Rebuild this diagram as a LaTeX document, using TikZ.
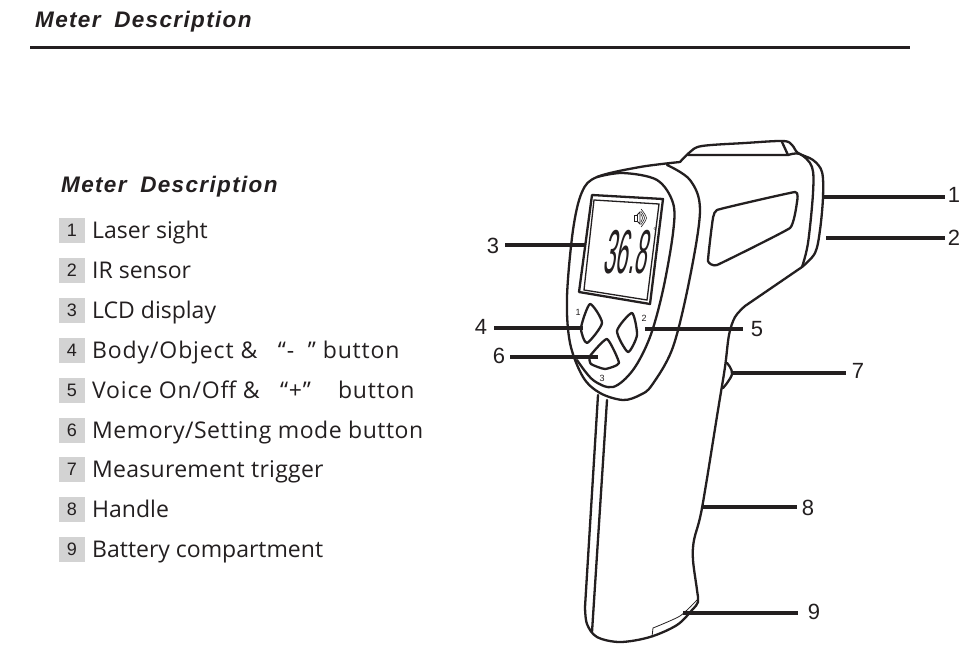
\documentclass[tikz,border=0pt]{standalone}
\usepackage{fontspec}
\setmainfont{Open Sans}
\newfontfamily\arialf{Liberation Sans}
\newfontfamily\headf[LetterSpace=6,WordSpace=1.8]{Liberation Sans}
\definecolor{ink}{HTML}{231F20}
\definecolor{chip}{HTML}{D3D3D3}
\tikzset{
  body/.style={draw=ink,line width=2.3pt,line join=round,line cap=round},
  fine/.style={draw=ink,line width=0.8pt},
  leader/.style={draw=ink,line width=3.4pt},
  callout/.style={font=\arialf\fontsize{22}{22}\selectfont,text=ink,inner sep=0pt},
  head/.style={font=\headf\bfseries\itshape\fontsize{22.5}{22.5}\selectfont,text=ink,inner sep=0pt,anchor=west},
  chipbox/.style={fill=chip,minimum width=26pt,minimum height=25pt,inner sep=0pt,font=\arialf\fontsize{18}{18}\selectfont,text=ink},
  item/.style={font=\fontsize{23}{23}\selectfont,text=ink,inner sep=0pt,anchor=base west},
  tiny/.style={font=\arialf\fontsize{9}{9}\selectfont,text=ink,inner sep=0pt},
}
\newcommand{\wider}[1]{\addfontfeature{LetterSpace=#1}}
\begin{document}
\begin{tikzpicture}[x=1pt,y=-1pt]
\useasboundingbox[fill=white] (0,0) rectangle (963,654);
% header
\node[head] (title) at (35,22) {Meter Description};
\coordinate (ruleL) at (30,47); \coordinate (ruleR) at (910,47);
\draw[draw=ink,line width=3pt] (ruleL) -- (ruleR);
\node[head] (sub) at (61,187) {Meter Description};
% list
\foreach \n/\y/\t in {1/230/{Laser sight},2/270/{IR sensor},3/310/{LCD display},
  4/350/{\wider{3.8}Body/Object \&\ \ \ “-\ \ ” button},5/390/{\wider{3.5}Voice On/Off \&\ \ \ “+”\ \ \ \ button},
  6/430/{\wider{2.2}Memory/Setting mode button},7/469/{\wider{1.2}Measurement trigger},8/509/{Handle},9/549/{Battery compartment}}{
  \node[chipbox] (c\n) at (72,\y) {\n};
  \node[item] (t\n) at (92,\y+8) {\t};
}
% meter outline
\draw[body] plot[smooth,tension=0.55] coordinates {(680,162) (690,152) (702,146) (745,143) (783,141) (792,145) (798,153) (813,160) (822,172) (823,197) (820,230) (815,253) (802,267)};
\draw[body] (802,267) -- (745,306);
\draw[body] plot[smooth,tension=0.55] coordinates {(745,306) (735,317) (729,335) (725,367) (718,410) (702,508) (694,540) (693,560) (697,590) (698,602) (692,610) (677,625) (650,637) (620,642) (597,637) (587,624) (585,607)};
\draw[body] (585,607) -- (598,395);
\draw[body] (607,400) -- (592,632);
% face outer
\draw[body] plot[smooth,tension=0.55] coordinates {(680,162) (640,167) (597,177) (582,192) (573,230) (567,297) (570,343) (583,377) (600,393) (623,400) (640,395) (652,385) (673,347) (690,277) (700,210) (690,180) (667,165)};
% face inner
\draw[body] plot[smooth,tension=0.55] coordinates {(597,177) (623,173) (657,180) (673,203) (673,233) (663,290) (650,337) (633,370) (613,387) (593,380) (577,360)};
% rear lines
\draw[body] (688,155) -- (788,155) -- (782,142);
\draw[body] plot[smooth,tension=0.55] coordinates {(788,155) (800,154) (812,167) (813,193) (808,243) (802,267)};
% window
\draw[body] plot[smooth cycle,tension=0.18] coordinates {(717,210) (795,192) (797,202) (790,228) (717,265) (708,261) (712,225)};
% display
\draw[body] (592,195) -- (663,199) -- (650,304) -- (579,292) -- cycle;
\draw[draw=ink,line width=1.3pt] (594,200) -- (659,204) -- (647,300) -- (584,290) -- cycle;
\node[font=\arialf\fontsize{62}{62}\selectfont,text=ink,inner sep=0pt,xslant=0.18,xscale=0.36,transform shape] (lcd) at (628,252) {36.8};
\node[tiny,font=\arialf\fontsize{8}{8}\selectfont] (deg) at (655,231) {°};
% speaker icon
\draw[draw=ink,line width=0.8pt] (634,215) rectangle (637,221);
\draw[draw=ink,line width=0.8pt] (637,215) -- (640,212) -- (640,224) -- (637,221);
\draw[draw=ink,line width=0.6pt] plot[smooth] coordinates {(641,214) (642.5,218) (641,222)};
\draw[draw=ink,line width=0.6pt] plot[smooth] coordinates {(641,211.5) (644.5,218) (641,224.5)};
\draw[draw=ink,line width=0.6pt] plot[smooth] coordinates {(641,209) (646.5,218) (641,227)};
% buttons
\draw[body] plot[smooth cycle,tension=0.4] coordinates {(590,304) (602,323) (587,343) (581,328)};
\draw[body] plot[smooth cycle,tension=0.4] coordinates {(632,313) (617,331) (628,352) (637,335)};
\draw[body] plot[smooth cycle,tension=0.3] coordinates {(607,339) (619,363) (605,369) (591,364) (590,356)};
\node[tiny] (k1) at (578,312) {1};
\node[tiny] (k2) at (644,318) {2};
\node[tiny] (k3) at (602,378) {3};
% trigger
\draw[body] plot[smooth,tension=0.7] coordinates {(727,363) (732,374) (723,388)};
% battery
\draw[fine] plot[smooth,tension=0.4] coordinates {(697,600) (680,616) (653,628)} -- (652,637);
% callouts
\node[callout] (n1) at (954,195) {1};
\node[callout] (n2) at (954,238) {2};
\node[callout] (n3) at (493,246) {3};
\node[callout] (n4) at (481,327) {4};
\node[callout] (n5) at (757,329) {5};
\node[callout] (n6) at (499,356) {6};
\node[callout] (n7) at (858,371) {7};
\node[callout] (n8) at (808,508) {8};
\node[callout] (n9) at (814,612) {9};
\coordinate (p1) at (823,197);\coordinate (p2) at (826,238);\coordinate (p3) at (585,245);
\coordinate (p4) at (583,328);\coordinate (p5) at (645,329);\coordinate (p6) at (598,357);
\coordinate (p7) at (732,373);\coordinate (p8) at (702,507);\coordinate (p9) at (683,613);
\draw[leader,shorten >=3pt] (p1) -- (p1 -| n1.west);
\draw[leader,shorten >=3pt] (p2) -- (p2 -| n2.west);
\draw[leader,shorten >=6pt] (p3) -- (p3 -| n3.east);
\draw[leader,shorten >=7pt] (p4) -- (p4 -| n4.east);
\draw[leader,shorten >=8pt] (p5) -- (p5 -| n5.west);
\draw[leader,shorten >=5pt] (p6) -- (p6 -| n6.east);
\draw[leader,shorten >=6pt] (p7) -- (p7 -| n7.west);
\draw[leader,shorten >=5pt] (p8) -- (p8 -| n8.west);
\draw[leader,shorten >=10pt] (p9) -- (p9 -| n9.west);
\end{tikzpicture}
\end{document}
